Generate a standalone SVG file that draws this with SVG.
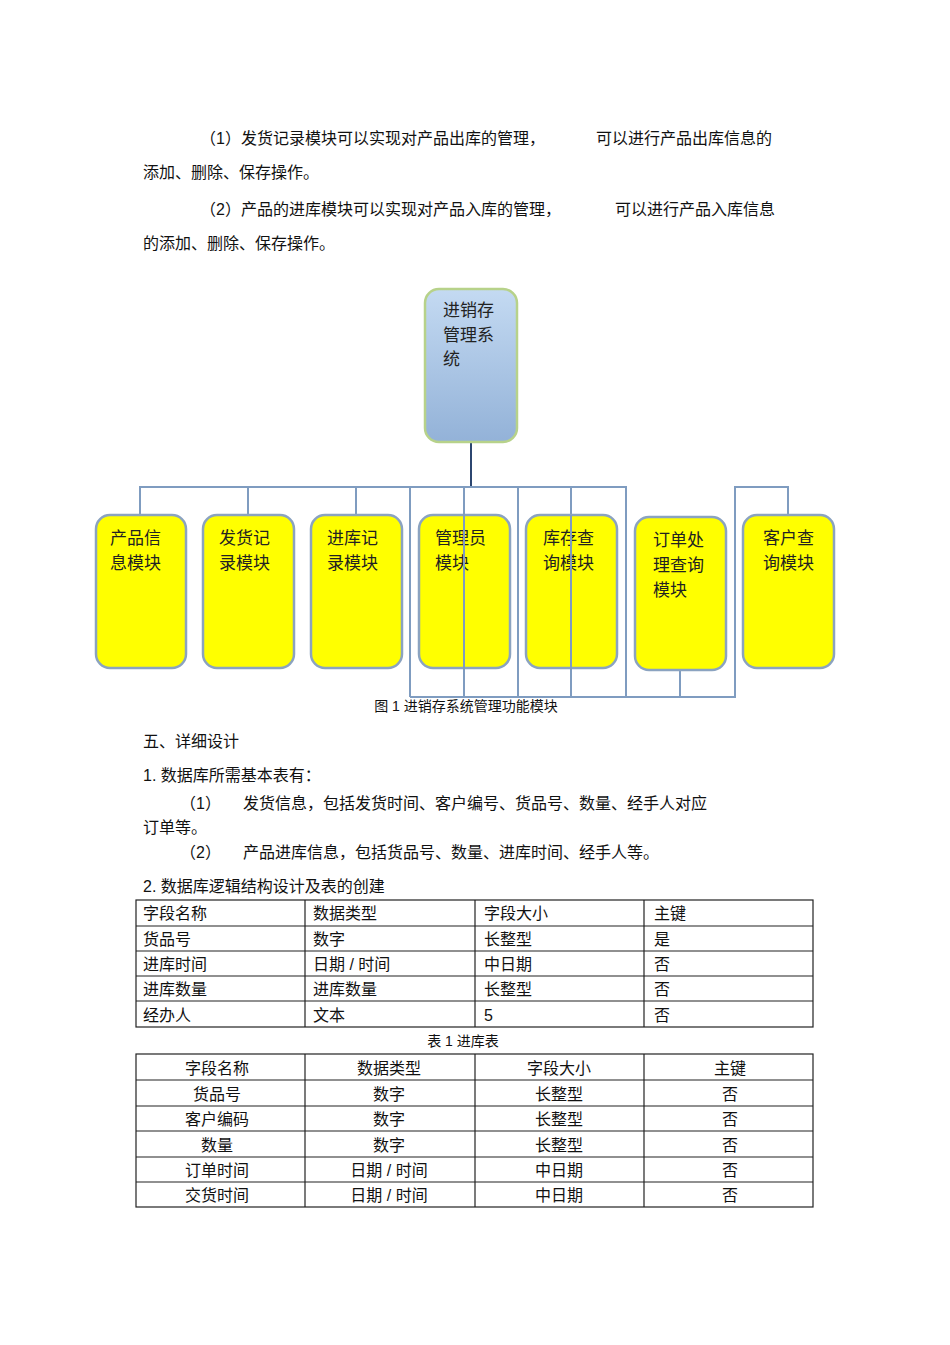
<svg xmlns="http://www.w3.org/2000/svg" width="950" height="1345" viewBox="0 0 950 1345">
<style>
text{font-family:"Liberation Sans","Noto Sans CJK SC",sans-serif;fill:#111}
.b{font-size:16px}
.n{font-size:17px;fill:#222}
.c{font-size:14px}
.t{font-size:16px}
.m{text-anchor:middle}
.box{fill:#ffff00;stroke:#8ba3c0;stroke-width:2.5}
.ln{stroke:#7f9cc0;stroke-width:2;fill:none}
.g line{stroke:#222;stroke-width:1.2}
</style>
<defs>
<linearGradient id="rg" x1="0" y1="0" x2="0" y2="1"><stop offset="0" stop-color="#c4daf2"/><stop offset="1" stop-color="#93b2d8"/></linearGradient>
</defs>
<rect width="950" height="1345" fill="#fff"/>
<text class="b" x="200" y="144">（1）发货记录模块可以实现对产品出库的管理，</text>
<text class="b" x="596" y="144">可以进行产品出库信息的</text>
<text class="b" x="143" y="178">添加、删除、保存操作。</text>
<text class="b" x="200" y="215">（2）产品的进库模块可以实现对产品入库的管理，</text>
<text class="b" x="615" y="215">可以进行产品入库信息</text>
<text class="b" x="143" y="249">的添加、删除、保存操作。</text>
<g id="connectors">
<line x1="471" y1="442" x2="471" y2="487" stroke="#2c4670" stroke-width="2"/>
<polyline class="ln" points="140,515 140,487 626,487 626,697"/>
<line class="ln" x1="248" y1="487" x2="248" y2="515"/>
<line class="ln" x1="356" y1="487" x2="356" y2="515"/>
<line class="ln" x1="410" y1="487" x2="410" y2="697"/>
<line class="ln" x1="571" y1="487" x2="571" y2="697"/>
<polyline class="ln" points="410,697 735,697 735,487 788,487 788,515"/>
<line class="ln" x1="680" y1="670" x2="680" y2="697"/>
</g>
<g id="root"><rect x="425" y="289" width="92" height="153" rx="14" fill="url(#rg)" stroke="#b7d28a" stroke-width="2.5"/>
<text class="n" x="443" y="316">进销存</text><text class="n" x="443" y="341">管理系</text><text class="n" x="443" y="365">统</text></g>
<g id="n1"><rect class="box" x="96" y="515" width="90" height="153" rx="14"/><text class="n" x="110" y="544">产品信</text><text class="n" x="110" y="569">息模块</text></g>
<g id="n2"><rect class="box" x="203" y="515" width="91" height="153" rx="14"/><text class="n" x="219" y="544">发货记</text><text class="n" x="219" y="569">录模块</text></g>
<g id="n3"><rect class="box" x="311" y="515" width="91" height="153" rx="14"/><text class="n" x="327" y="544">进库记</text><text class="n" x="327" y="569">录模块</text></g>
<g id="n4"><rect class="box" x="419" y="515" width="91" height="153" rx="14"/><text class="n" x="435" y="544">管理员</text><text class="n" x="435" y="569">模块</text></g>
<g id="n5"><rect class="box" x="526" y="515" width="91" height="153" rx="14"/><text class="n" x="543" y="544">库存查</text><text class="n" x="543" y="569">询模块</text></g>
<g id="n6"><rect class="box" x="635" y="517" width="91" height="153" rx="14"/><text class="n" x="653" y="546">订单处</text><text class="n" x="653" y="571">理查询</text><text class="n" x="653" y="596">模块</text></g>
<g id="n7"><rect class="box" x="743" y="515" width="91" height="153" rx="14"/><text class="n" x="763" y="544">客户查</text><text class="n" x="763" y="569">询模块</text></g>
<g id="overlay" class="ln"><line x1="464" y1="487" x2="464" y2="697"/><line x1="518" y1="487" x2="518" y2="697"/><line x1="571" y1="515" x2="571" y2="697"/></g>
<text class="c m" x="466" y="711">图 1 进销存系统管理功能模块</text>
<text class="b" x="143" y="747">五、详细设计</text>
<text class="b" x="143" y="781">1.  数据库所需基本表有：</text>
<text class="b" x="180" y="809">（1）</text><text class="b" x="243" y="809">发货信息，包括发货时间、客户编号、货品号、数量、经手人对应</text>
<text class="b" x="143" y="833">订单等。</text>
<text class="b" x="180" y="858">（2）</text><text class="b" x="243" y="858">产品进库信息，包括货品号、数量、进库时间、经手人等。</text>
<text class="b" x="143" y="892">2.  数据库逻辑结构设计及表的创建</text>
<g id="table1" class="g">
<rect x="136" y="900" width="677" height="127" fill="none" stroke="#222" stroke-width="1.2"/>
<line x1="136" y1="926" x2="813" y2="926"/><line x1="136" y1="951" x2="813" y2="951"/><line x1="136" y1="976" x2="813" y2="976"/><line x1="136" y1="1001" x2="813" y2="1001"/>
<line x1="305" y1="900" x2="305" y2="1027"/><line x1="475" y1="900" x2="475" y2="1027"/><line x1="644" y1="900" x2="644" y2="1027"/>
<text class="t" x="143" y="919">字段名称</text><text class="t" x="313" y="919">数据类型</text><text class="t" x="484" y="919">字段大小</text><text class="t" x="654" y="919">主键</text>
<text class="t" x="143" y="945">货品号</text><text class="t" x="313" y="945">数字</text><text class="t" x="484" y="945">长整型</text><text class="t" x="654" y="945">是</text>
<text class="t" x="143" y="970">进库时间</text><text class="t" x="313" y="970">日期 / 时间</text><text class="t" x="484" y="970">中日期</text><text class="t" x="654" y="970">否</text>
<text class="t" x="143" y="995">进库数量</text><text class="t" x="313" y="995">进库数量</text><text class="t" x="484" y="995">长整型</text><text class="t" x="654" y="995">否</text>
<text class="t" x="143" y="1021">经办人</text><text class="t" x="313" y="1021">文本</text><text class="t" x="484" y="1021">5</text><text class="t" x="654" y="1021">否</text>
</g>
<text class="c m" x="463" y="1046">表 1  进库表</text>
<g id="table2" class="g">
<rect x="136" y="1054" width="677" height="153" fill="none" stroke="#222" stroke-width="1.2"/>
<line x1="136" y1="1080" x2="813" y2="1080"/><line x1="136" y1="1106" x2="813" y2="1106"/><line x1="136" y1="1131" x2="813" y2="1131"/><line x1="136" y1="1157" x2="813" y2="1157"/><line x1="136" y1="1182" x2="813" y2="1182"/>
<line x1="305" y1="1054" x2="305" y2="1207"/><line x1="475" y1="1054" x2="475" y2="1207"/><line x1="644" y1="1054" x2="644" y2="1207"/>
<g class="m">
<text class="t m" x="217" y="1074">字段名称</text><text class="t m" x="389" y="1074">数据类型</text><text class="t m" x="559" y="1074">字段大小</text><text class="t m" x="730" y="1074">主键</text>
<text class="t m" x="217" y="1100">货品号</text><text class="t m" x="389" y="1100">数字</text><text class="t m" x="559" y="1100">长整型</text><text class="t m" x="730" y="1100">否</text>
<text class="t m" x="217" y="1125">客户编码</text><text class="t m" x="389" y="1125">数字</text><text class="t m" x="559" y="1125">长整型</text><text class="t m" x="730" y="1125">否</text>
<text class="t m" x="217" y="1151">数量</text><text class="t m" x="389" y="1151">数字</text><text class="t m" x="559" y="1151">长整型</text><text class="t m" x="730" y="1151">否</text>
<text class="t m" x="217" y="1176">订单时间</text><text class="t m" x="389" y="1176">日期 / 时间</text><text class="t m" x="559" y="1176">中日期</text><text class="t m" x="730" y="1176">否</text>
<text class="t m" x="217" y="1201">交货时间</text><text class="t m" x="389" y="1201">日期 / 时间</text><text class="t m" x="559" y="1201">中日期</text><text class="t m" x="730" y="1201">否</text>
</g>
</g>
</svg>
